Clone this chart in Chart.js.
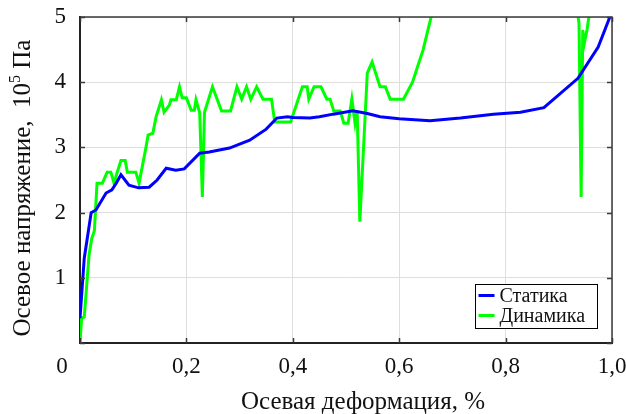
<!DOCTYPE html>
<html>
<head>
<meta charset="utf-8">
<script src="https://cdn.jsdelivr.net/npm/chart.js@4.4.1/dist/chart.umd.min.js"></script>
<style>
  html, body { margin: 0; padding: 0; background: #fff; }
  #wrap { width: 626px; height: 414px; }
</style>
</head>
<body>
<div id="wrap"><canvas id="stressChart" width="626" height="414"></canvas></div>
<script>
// Статика (static loading)
const staticStrain = [0.0, 0.008, 0.021, 0.03, 0.049, 0.06, 0.068, 0.077, 0.092, 0.11, 0.13, 0.145,
    0.162, 0.18, 0.196, 0.225, 0.243, 0.281, 0.319, 0.35, 0.37, 0.39, 0.4, 0.432, 0.45, 0.476,
    0.513, 0.54, 0.564, 0.6, 0.658, 0.715, 0.777, 0.828, 0.872, 0.936, 0.974, 0.996];
const staticStress = [0.38, 1.3, 2.0, 2.04, 2.3, 2.35, 2.45, 2.58, 2.42, 2.38, 2.39, 2.5,
    2.68, 2.65, 2.67, 2.91, 2.93, 2.99, 3.11, 3.28, 3.45, 3.47, 3.46, 3.45, 3.47, 3.51,
    3.56, 3.52, 3.47, 3.44, 3.41, 3.45, 3.51, 3.54, 3.61, 4.06, 4.54, 5.0];

// Динамика (dynamic loading)
const dynamicStrain = [0.0, 0.003, 0.008, 0.017, 0.022, 0.027, 0.032, 0.042, 0.051, 0.058, 0.064,
    0.07, 0.077, 0.085, 0.089, 0.105, 0.111, 0.124, 0.128, 0.137, 0.143, 0.153, 0.158, 0.168,
    0.171, 0.181, 0.187, 0.192, 0.2, 0.209, 0.215, 0.218, 0.225, 0.23, 0.234, 0.249, 0.266,
    0.283, 0.295, 0.304, 0.313, 0.321, 0.332, 0.344, 0.36, 0.366, 0.396, 0.418, 0.427, 0.43,
    0.44, 0.453, 0.464, 0.47, 0.477, 0.489, 0.496, 0.504, 0.511, 0.517, 0.521, 0.526, 0.54,
    0.549, 0.564, 0.574, 0.583, 0.608, 0.625, 0.645, 0.66, 0.666, 0.93, 0.938, 0.942, 0.945,
    0.948, 0.953, 0.96];
const dynamicStress = [0, 0.38, 0.4, 1.35, 1.6, 1.72, 2.45, 2.45, 2.62, 2.62, 2.45,
    2.62, 2.8, 2.8, 2.62, 2.62, 2.45, 3.0, 3.19, 3.22, 3.47, 3.73, 3.54, 3.65,
    3.73, 3.73, 3.93, 3.76, 3.76, 3.57, 3.57, 3.73, 3.53, 2.24, 3.54, 3.93, 3.56,
    3.56, 3.93, 3.74, 3.93, 3.74, 3.93, 3.74, 3.74, 3.39, 3.39, 3.93, 3.93, 3.74,
    3.93, 3.93, 3.74, 3.74, 3.56, 3.56, 3.37, 3.37, 3.74, 3.37, 3.56, 1.86, 4.14,
    4.31, 3.93, 3.93, 3.74, 3.74, 4.0, 4.5, 5.0, 5.4, 5.4, 4.9, 2.24, 4.8,
    4.6, 4.8, 5.2];

const xTicks = [0, 0.2, 0.4, 0.6, 0.8, 1.0];
const yTicks = [0, 1, 2, 3, 4, 5];

const serif = '"Liberation Serif", "Times New Roman", serif';

function toPoints(xs, ys) {
    return xs.map((v, i) => ({ x: v, y: ys[i] }));
}

// frame, inward ticks, axis labels and legend drawn MATLAB-style
const framePlugin = {
    id: 'frame',
    afterDatasetsDraw(chart) {
        const { ctx, chartArea: a, scales: { x, y } } = chart;
        ctx.save();
        ctx.strokeStyle = '#3a3a3a';
        ctx.lineWidth = 1.5;
        ctx.beginPath();
        ctx.moveTo(a.left, a.top);
        ctx.lineTo(a.right, a.top);
        ctx.lineTo(a.right, a.bottom);
        ctx.stroke();

        // inward ticks on all four sides
        const len = 5;
        ctx.beginPath();
        xTicks.forEach(v => {
            const px = Math.round(x.getPixelForValue(v)) + 0.5;
            ctx.moveTo(px, a.bottom); ctx.lineTo(px, a.bottom - len);
            ctx.moveTo(px, a.top); ctx.lineTo(px, a.top + len);
        });
        yTicks.forEach(v => {
            const py = Math.round(y.getPixelForValue(v)) + 0.5;
            ctx.moveTo(a.left, py); ctx.lineTo(a.left + len, py);
            ctx.moveTo(a.right, py); ctx.lineTo(a.right - len, py);
        });
        ctx.stroke();

        // x tick labels
        ctx.fillStyle = '#111';
        ctx.font = '23px ' + serif;
        ctx.textAlign = 'center';
        ctx.textBaseline = 'alphabetic';
        xTicks.forEach(v => {
            const txt = v === 0 ? '0' : v.toFixed(1).replace('.', ',');
            let px = x.getPixelForValue(v);
            if (v === 0) px -= 18;
            ctx.fillText(txt, px, a.bottom + 30);
        });

        // x title
        ctx.font = '25px ' + serif;
        ctx.fillText('Осевая деформация, %', 363, 409);

        // y title with superscript exponent
        const t1 = 'Осевое напряжение,  10', t2 = '5', t3 = ' Па';
        ctx.font = '25px ' + serif;
        const w1 = ctx.measureText(t1).width, w3 = ctx.measureText(t3).width;
        ctx.font = '16px ' + serif;
        const w2 = ctx.measureText(t2).width;
        const total = w1 + w2 + w3;
        ctx.translate(30, 188);
        ctx.rotate(-Math.PI / 2);
        ctx.textAlign = 'left';
        ctx.font = '25px ' + serif;
        ctx.fillText(t1, -total / 2, 0);
        ctx.font = '16px ' + serif;
        ctx.fillText(t2, -total / 2 + w1, -10);
        ctx.font = '25px ' + serif;
        ctx.fillText(t3, -total / 2 + w1 + w2, 0);
        ctx.setTransform(1, 0, 0, 1, 0, 0);

        // legend
        const lx = 475.5, ly = 284.5, lw = 122, lh = 44;
        ctx.fillStyle = '#fff';
        ctx.fillRect(lx, ly, lw, lh);
        ctx.strokeStyle = '#000';
        ctx.lineWidth = 1;
        ctx.strokeRect(lx, ly, lw, lh);
        ctx.font = '20px ' + serif;
        ctx.textAlign = 'left';
        ctx.textBaseline = 'middle';
        chart.data.datasets.forEach((ds, i) => {
            const cy = ly + 11 + i * 20;
            ctx.strokeStyle = ds.borderColor;
            ctx.lineWidth = 3;
            ctx.beginPath();
            ctx.moveTo(lx + 3, cy);
            ctx.lineTo(lx + 19, cy);
            ctx.stroke();
            ctx.fillStyle = '#111';
            ctx.fillText(ds.label, lx + 24, cy + 1);
        });
        ctx.restore();
    }
};

const ctx = document.getElementById('stressChart');
new Chart(ctx, {
    type: 'line',
    data: {
        datasets: [{
            label: 'Статика',
            data: toPoints(staticStrain, staticStress),
            borderColor: '#0000ff',
            borderWidth: 3,
            pointRadius: 0,
            tension: 0,
            clip: 0
        }, {
            label: 'Динамика',
            data: toPoints(dynamicStrain, dynamicStress),
            borderColor: '#00ff00',
            borderWidth: 3,
            pointRadius: 0,
            tension: 0,
            clip: 0
        }]
    },
    options: {
        responsive: false,
        animation: false,
        layout: { padding: { top: 17, right: 14, left: 0, bottom: 0 } },
        plugins: {
            legend: { display: false },
            tooltip: { enabled: false }
        },
        scales: {
            x: {
                type: 'linear',
                min: 0,
                max: 1,
                afterFit: s => { s.height = 71; s.paddingLeft = 0; s.paddingRight = 0; },
                afterBuildTicks: s => { s.ticks = xTicks.map(v => ({ value: v })); },
                ticks: { display: false },
                grid: { color: '#dedede', lineWidth: 1, drawTicks: false },
                border: { display: true, color: '#222', width: 2 }
            },
            y: {
                min: 0,
                max: 5,
                afterFit: s => { s.width = 80; s.paddingTop = 0; s.paddingBottom = 0; },
                afterBuildTicks: s => { s.ticks = yTicks.map(v => ({ value: v })); },
                ticks: {
                    padding: 14,
                    color: '#111',
                    font: { family: serif, size: 23 },
                    callback: v => (v === 0 ? '' : String(v))
                },
                grid: { color: '#dedede', lineWidth: 1, drawTicks: false },
                border: { display: true, color: '#222', width: 2 }
            }
        }
    },
    plugins: [framePlugin]
});
</script>
</body>
</html>
